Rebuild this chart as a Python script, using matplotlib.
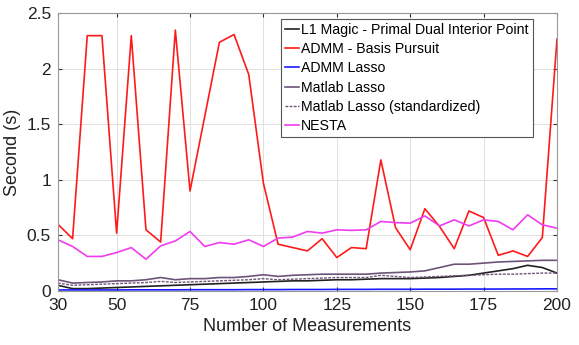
import matplotlib
matplotlib.use("Agg")
import matplotlib.pyplot as plt
import numpy as np

measurements = list(range(30, 201, 5))

l1_magic = [0.05, 0.02, 0.02, 0.025, 0.03, 0.035, 0.04, 0.045, 0.05, 0.055, 0.06, 0.065, 0.07, 0.075, 0.08,
            0.085, 0.09, 0.09, 0.095, 0.10, 0.10, 0.105, 0.11, 0.11, 0.11, 0.115, 0.12, 0.13, 0.14, 0.16,
            0.18, 0.20, 0.23, 0.21, 0.16]
admm_bp = [0.60, 0.47, 2.30, 2.30, 0.52, 2.30, 0.55, 0.44, 2.35, 0.90, 1.57, 2.24, 2.31, 1.95, 0.97,
           0.42, 0.39, 0.36, 0.47, 0.30, 0.39, 0.38, 1.18, 0.57, 0.37, 0.74, 0.58, 0.38, 0.72, 0.66,
           0.32, 0.36, 0.31, 0.48, 2.27]
admm_lasso = [0.008, 0.008, 0.008, 0.008, 0.008, 0.009, 0.009, 0.009, 0.009, 0.010, 0.010, 0.010, 0.010, 0.011, 0.011,
              0.011, 0.012, 0.012, 0.012, 0.013, 0.013, 0.013, 0.014, 0.014, 0.014, 0.015, 0.015, 0.015, 0.016, 0.016,
              0.016, 0.017, 0.017, 0.018, 0.018]
matlab_lasso = [0.10, 0.07, 0.075, 0.08, 0.09, 0.09, 0.10, 0.12, 0.10, 0.11, 0.11, 0.12, 0.12, 0.13, 0.145,
                0.13, 0.14, 0.145, 0.15, 0.15, 0.15, 0.15, 0.16, 0.165, 0.17, 0.18, 0.21, 0.24, 0.24, 0.25,
                0.26, 0.265, 0.27, 0.275, 0.275]
matlab_lasso_std = [0.07, 0.05, 0.055, 0.06, 0.065, 0.07, 0.075, 0.085, 0.075, 0.08, 0.085, 0.09, 0.095, 0.10, 0.11,
                    0.10, 0.105, 0.11, 0.115, 0.12, 0.12, 0.12, 0.14, 0.13, 0.12, 0.125, 0.13, 0.135, 0.14, 0.145,
                    0.15, 0.15, 0.155, 0.16, 0.16]
nesta = [0.46, 0.40, 0.31, 0.31, 0.345, 0.39, 0.285, 0.405, 0.45, 0.535, 0.40, 0.435, 0.42, 0.46, 0.40,
         0.475, 0.485, 0.535, 0.52, 0.55, 0.545, 0.55, 0.625, 0.615, 0.61, 0.675, 0.585, 0.64, 0.585, 0.64,
         0.625, 0.55, 0.685, 0.595, 0.565]

x_ticks = [30, 50, 75, 100, 125, 150, 175, 200]
y_ticks = [0, 0.5, 1, 1.5, 2, 2.5]
y_tick_labels = ['0', '0.5', '1', '1.5', '2', '2.5']

plt.rcParams['font.family'] = ['Liberation Sans', 'DejaVu Sans']

fig = plt.figure(figsize=(5.79, 3.45), dpi=100)
ax = fig.add_axes([0.1, 0.157, 0.862, 0.804])

ax.plot(measurements, l1_magic, color='#222222', lw=1.2, label='L1 Magic - Primal Dual Interior Point')
ax.plot(measurements, admm_bp, color='#ff1a1a', lw=1.2, label='ADMM - Basis Pursuit')
ax.plot(measurements, admm_lasso, color='#1a1aff', lw=1.2, label='ADMM Lasso')
ax.plot(measurements, matlab_lasso, color='#6e5478', lw=1.2, label='Matlab Lasso')
ax.plot(measurements, matlab_lasso_std, color='#6e5478', lw=1.0, ls=(0, (2, 1)), label='Matlab Lasso (standardized)')
ax.plot(measurements, nesta, color='#f03cf0', lw=1.2, label='NESTA')

ax.set_xlim(30, 200)
ax.set_ylim(0, 2.5)
ax.set_xticks(x_ticks)
ax.set_yticks(y_ticks)
ax.set_yticklabels(y_tick_labels)
ax.tick_params(direction='in', top=True, right=True, labelsize=12.5, length=3, colors='#333333', labelcolor='#222222')
ax.tick_params(axis='x', pad=5)
ax.tick_params(axis='y', pad=5)
ax.grid(True, color='#e0e0e0', lw=0.7)
for s in ax.spines.values():
    s.set_color('#999999')
ax.set_xlabel('Number of Measurements', fontsize=13, color='#222222', labelpad=4)
ax.set_ylabel('Second (s)', fontsize=13, color='#222222', labelpad=4)

leg = ax.legend(loc='upper right', bbox_to_anchor=(0.952, 0.98), borderaxespad=0,
                fontsize=10.2, handlelength=1.0, handletextpad=0.15, labelspacing=0.36,
                frameon=True, fancybox=False, framealpha=1, borderpad=0.3)
leg.get_frame().set_edgecolor('#555555')
leg.get_frame().set_linewidth(0.8)

fig.savefig('out.png', dpi=100)
